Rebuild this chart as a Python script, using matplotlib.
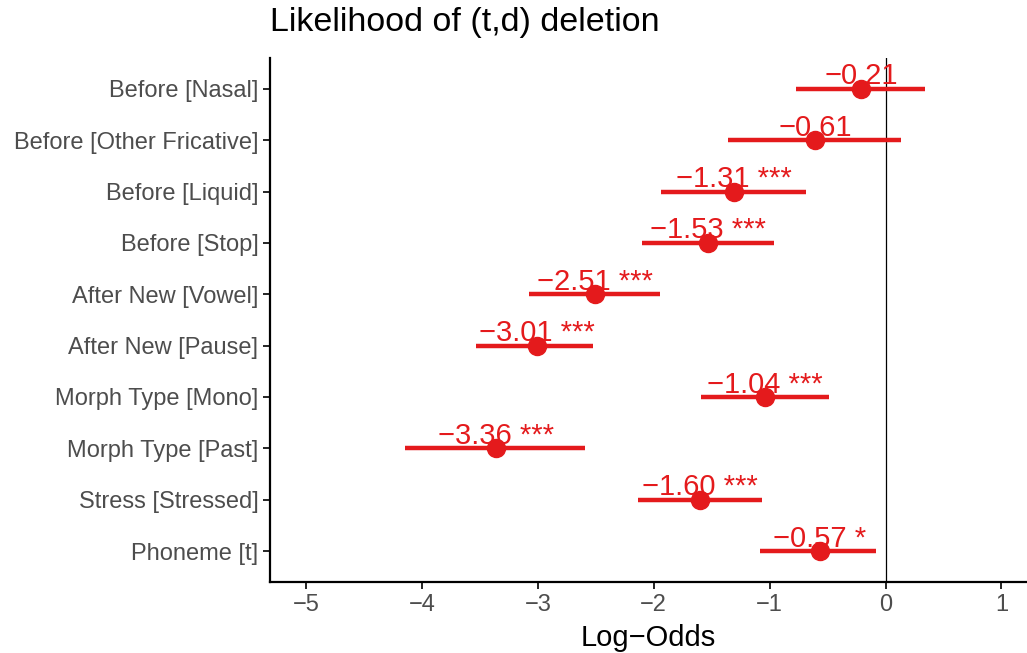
import matplotlib.pyplot as plt
import numpy as np

plt.rcParams['font.family'] = ['Liberation Sans', 'DejaVu Sans']

# top row first
terms = ["Before [Nasal]", "Before [Other Fricative]", "Before [Liquid]",
         "Before [Stop]", "After New [Vowel]", "After New [Pause]",
         "Morph Type [Mono]", "Morph Type [Past]", "Stress [Stressed]",
         "Phoneme [t]"]
estimates = [-0.21, -0.61, -1.31, -1.53, -2.51, -3.01, -1.04, -3.36, -1.60, -0.57]
ci_low = [-0.77, -1.36, -1.94, -2.10, -3.08, -3.53, -1.59, -4.15, -2.14, -1.08]
ci_high = [0.34, 0.13, -0.69, -0.96, -1.95, -2.52, -0.49, -2.59, -1.07, -0.08]
stars = ["", "", "***", "***", "***", "***", "***", "***", "***", "*"]

red = "#E41A1C"
grey = "#4D4D4D"

fig = plt.figure(figsize=(10.27, 6.53), dpi=100)
ax = fig.add_axes([0.263, 0.109, 0.737, 0.802])

n = len(terms)
ys = np.arange(n, 0, -1)

ax.axvline(0, color="black", lw=0.9, zorder=1)
ax.hlines(ys, ci_low, ci_high, color=red, lw=3.2, zorder=2)
ax.plot(estimates, ys, 'o', color=red, ms=13, zorder=3)

for i in range(n):
    lab = "%.2f" % estimates[i]
    lab = lab.replace("-", "\u2212")
    if stars[i]:
        lab = lab + " " + stars[i]
    ax.text(estimates[i], ys[i] - 0.03, lab, color=red, fontsize=21,
            ha="center", va="bottom", zorder=4)

ax.set_xlim(-5.31, 1.22)
ax.set_ylim(0.4, 10.6)
ax.set_yticks(ys)
ax.set_yticklabels(terms)
ax.set_xticks(range(-5, 2))
ax.set_xticklabels([str(v).replace("-", "\u2212") for v in range(-5, 2)])
ax.tick_params(axis="both", colors="black", labelcolor=grey, labelsize=17,
               length=5, width=1.2, direction="out")

for side in ["top", "right"]:
    ax.spines[side].set_visible(False)
for side in ["left", "bottom"]:
    ax.spines[side].set_linewidth(1.6)

ax.set_xlabel("Log\u2212Odds", fontsize=21, labelpad=6)
fig.text(0.263, 0.966, "Likelihood of (t,d) deletion", fontsize=24.5,
         ha="left", va="center")

fig.savefig("out.png", dpi=100)
